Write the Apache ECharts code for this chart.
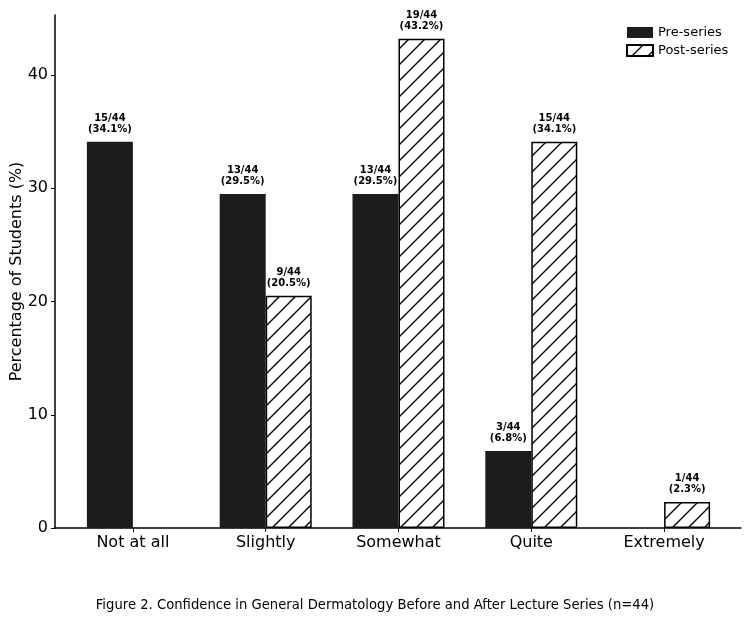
<!DOCTYPE html>
<html>
<head>
<meta charset="utf-8">
<script src="https://cdn.jsdelivr.net/npm/echarts@6/dist/echarts.min.js"></script>
<style>html,body{margin:0;padding:0;background:#fff}#c{width:750px;height:621px}</style>
</head>
<body>
<div id="c"></div>
<script>
var categories = ['Not at all', 'Slightly', 'Somewhat', 'Quite', 'Extremely'];
var preValues = [34.1, 29.5, 29.5, 6.8, 0];
var postValues = [0, 20.5, 43.2, 34.1, 2.3];
var preCounts = [15, 13, 13, 3, 0];
var postCounts = [0, 9, 19, 15, 1];
var total = 44;
var yTicks = [0, 10, 20, 30, 40];

var FONT = 'DejaVu Sans';

function hatch() {
  var s = 16;
  var c = document.createElement('canvas');
  c.width = s; c.height = s;
  var g = c.getContext('2d');
  g.fillStyle = '#fff'; g.fillRect(0, 0, s, s);
  g.strokeStyle = '#000'; g.lineWidth = 1.4;
  g.beginPath();
  g.moveTo(-2, s + 2); g.lineTo(s + 2, -2);
  g.moveTo(-2, 2); g.lineTo(2, -2);
  g.moveTo(s - 2, s + 2); g.lineTo(s + 2, s - 2);
  g.stroke();
  return { image: c, repeat: 'repeat' };
}

function mkData(vals, counts) {
  return vals.map(function (v, i) {
    return {
      value: [i, v > 0 ? v : '-'],
      label: { show: counts[i] > 0, formatter: counts[i] + '/' + total + '\n(' + v.toFixed(1) + '%)' }
    };
  });
}

var labelStyle = { position: 'top', distance: 7, fontFamily: FONT, fontSize: 10, fontWeight: 'bold', color: '#000', lineHeight: 11 };

var chart = echarts.init(document.getElementById('c'), null, { renderer: 'canvas' });
var pat = hatch();
chart.setOption({
  animation: false,
  backgroundColor: '#fff',
  title: {
    text: 'Figure 2. Confidence in General Dermatology Before and After Lecture Series (n=44)',
    left: 'center', top: 594,
    textStyle: { fontFamily: FONT, fontSize: 13.2, fontWeight: 'normal', color: '#000' }
  },
  legend: {
    left: 621, top: 21, orient: 'vertical', itemGap: 5,
    itemWidth: 26, itemHeight: 11, icon: 'rect',
    textStyle: { fontFamily: FONT, fontSize: 13, color: '#000' },
    data: ['Pre-series', 'Post-series']
  },
  grid: { left: 55, right: 9, top: 15, bottom: 93, outerBoundsMode: 'none', containLabel: false },
  xAxis: {
    type: 'value', min: -0.5865, max: 4.579,
    splitLine: { show: false },
    axisLine: { show: true, onZero: false, lineStyle: { color: '#000', width: 1.5 } },
    axisTick: { show: true, customValues: [0, 1, 2, 3, 4], length: 4, lineStyle: { color: '#000' } },
    axisLabel: {
      customValues: [0, 1, 2, 3, 4], margin: 7,
      fontFamily: FONT, fontSize: 16, color: '#000',
      formatter: function (v) { return categories[Math.round(v)]; }
    }
  },
  yAxis: {
    type: 'value', min: 0, max: 45.3, interval: 10,
    name: 'Percentage of Students (%)', nameLocation: 'middle', nameGap: 30, nameMoveOverlap: false,
    nameTextStyle: { fontFamily: FONT, fontSize: 16, color: '#000' },
    splitLine: { show: false },
    axisLine: { show: true, onZero: false, lineStyle: { color: '#000', width: 1.5 } },
    axisTick: { show: true, customValues: yTicks, length: 4, lineStyle: { color: '#000' } },
    axisLabel: {
      customValues: yTicks, margin: 7, fontFamily: FONT, fontSize: 16, color: '#000',
      formatter: function (v) { return String(v); }
    }
  },
  series: [
    {
      name: 'Pre-series', type: 'bar', barWidth: 46, barGap: '0%',
      itemStyle: { color: '#1c1c1c', borderColor: '#1c1c1c', borderWidth: 0 },
      label: labelStyle,
      data: mkData(preValues, preCounts)
    },
    {
      name: 'Post-series', type: 'bar', barWidth: 46, barGap: '0%',
      itemStyle: { color: pat, borderColor: '#000', borderWidth: 1.5 },
      label: labelStyle,
      data: mkData(postValues, postCounts)
    }
  ]
});
</script>
</body>
</html>
